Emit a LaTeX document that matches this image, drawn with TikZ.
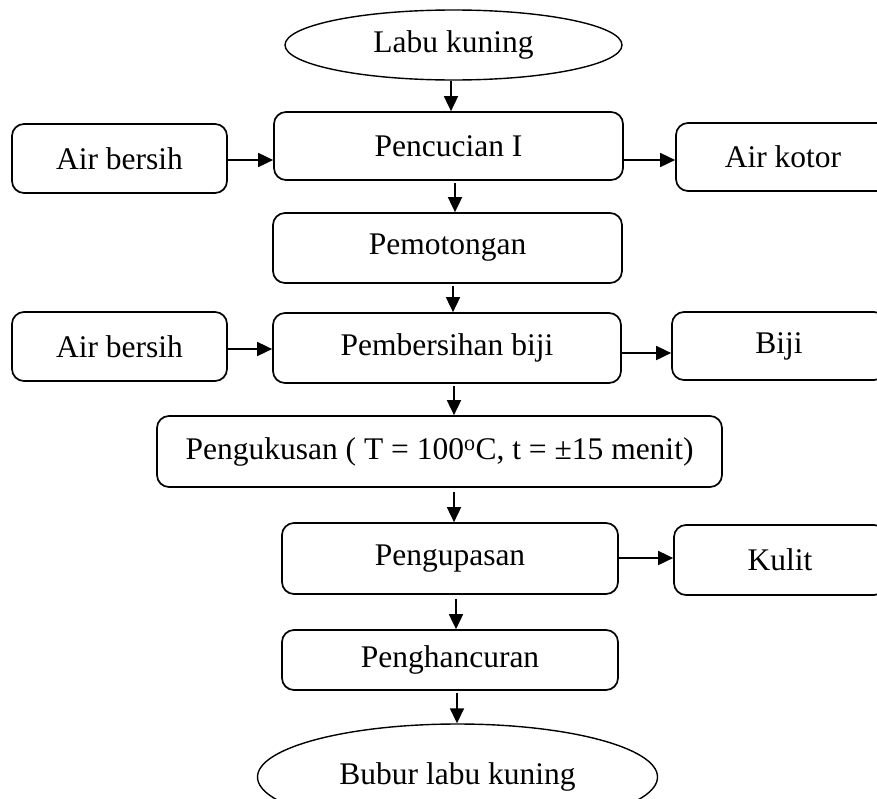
\documentclass[tikz,border=0pt]{standalone}
\usepackage{fontspec}
\setmainfont{Liberation Serif}
\usetikzlibrary{shapes.geometric,arrows.meta}
\begin{document}
\begin{tikzpicture}[x=1pt,y=-1pt,
  every node/.style={font=\fontsize{31.5}{38}\selectfont, inner sep=0pt},
  box/.style={draw, line width=1.7pt, rounded corners=12pt},
  oval/.style={draw, ellipse, line width=1.4pt},
  arr/.style={line width=1.7pt, -{Triangle[length=15pt,width=14pt]}}]
\useasboundingbox (0,0) rectangle (877,798);
\clip (0,0) rectangle (877,798);
\node[oval, minimum width=337, minimum height=70] (labu) at (453.5,45) {Labu kuning};
\node[box, minimum width=349, minimum height=68] (penc) at (448.5,146) {Pencucian I};
\node[box, minimum width=215, minimum height=69] (air1) at (119.5,158.5) {Air bersih};
\node[box, minimum width=214, minimum height=68] (kotor) at (783,157) {Air kotor};
\node[box, minimum width=349, minimum height=70] (pemot) at (447.5,248) {Pemotongan};
\node[box, minimum width=348, minimum height=70] (pemb) at (447,348) {Pembersihan biji};
\node[box, minimum width=215, minimum height=69] (air2) at (119.5,346.5) {Air bersih};
\node[box, minimum width=214, minimum height=68] (biji) at (779,346) {Biji};
\node[box, minimum width=565, minimum height=71] (peng) at (439.5,451.5) {Pengukusan ( T = 100\textsuperscript{o}C, t = ±15 menit)};
\node[box, minimum width=336, minimum height=71] (pengup) at (450,558.5) {Pengupasan};
\node[box, minimum width=212, minimum height=70] (kulit) at (780,560) {Kulit};
\node[box, minimum width=336, minimum height=60] (penghanc) at (450,660) {Penghancuran};
\node[oval, minimum width=400, minimum height=106] (bubur) at (457.5,777) {Bubur labu kuning};
% vertical flow
\coordinate (c1) at (451,0);
\coordinate (c2) at (455,0);
\coordinate (c3) at (453,0);
\coordinate (c4) at (454,0);
\coordinate (c5) at (456,0);
\coordinate (c6) at (457,0);
\draw[arr] (labu.south -| c1) -- (penc.north -| c1);
\draw[arr] ([yshift=-2pt]penc.south -| c2) -- (pemot.north -| c2);
\draw[arr] ([yshift=-2pt]pemot.south -| c3) -- (pemb.north -| c3);
\draw[arr] ([yshift=-2pt]pemb.south -| c4) -- (peng.north -| c4);
\draw[arr] ([yshift=-4pt]peng.south -| c4) -- (pengup.north -| c4);
\draw[arr] ([yshift=-4pt]pengup.south -| c5) -- (penghanc.north -| c5);
\draw[arr] ([yshift=-2pt]penghanc.south -| c6) -- (bubur.north -| c6);
% side flows
\coordinate (h1) at (0,160);
\coordinate (h2) at (0,349);
\coordinate (h3) at (0,353);
\coordinate (h4) at (0,558);
\draw[arr] (air1.east |- h1) -- (penc.west |- h1);
\draw[arr] (penc.east |- h1) -- (kotor.west |- h1);
\draw[arr] (air2.east |- h2) -- (pemb.west |- h2);
\draw[arr] (pemb.east |- h3) -- (biji.west |- h3);
\draw[arr] (pengup.east |- h4) -- (kulit.west |- h4);
\end{tikzpicture}
\end{document}
